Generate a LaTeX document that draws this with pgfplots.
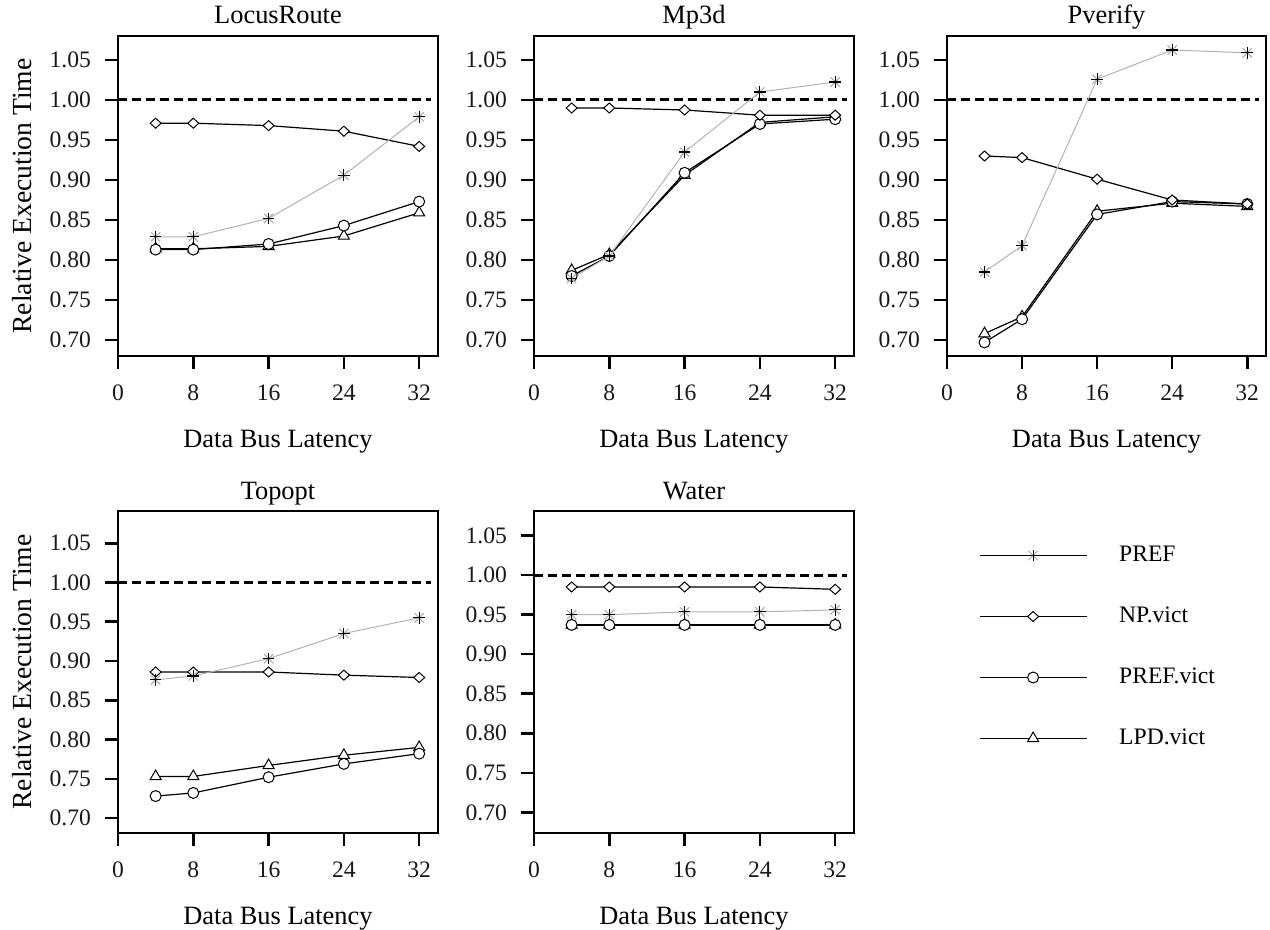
\documentclass[border=0pt]{standalone}
\usepackage{pgfplots}
\pgfplotsset{compat=1.18}
\usepackage{fontspec}
\setmainfont{Liberation Serif}

% PREF marker: light grey cross under a black plus
\pgfdeclareplotmark{plusx}{%
  \pgfsetstrokecolor{black!30}%
  \pgfpathmoveto{\pgfqpoint{-.8\pgfplotmarksize}{-.8\pgfplotmarksize}}%
  \pgfpathlineto{\pgfqpoint{.8\pgfplotmarksize}{.8\pgfplotmarksize}}%
  \pgfpathmoveto{\pgfqpoint{-.8\pgfplotmarksize}{.8\pgfplotmarksize}}%
  \pgfpathlineto{\pgfqpoint{.8\pgfplotmarksize}{-.8\pgfplotmarksize}}%
  \pgfusepathqstroke
  \pgfsetstrokecolor{black}%
  \pgfpathmoveto{\pgfqpoint{-\pgfplotmarksize}{0pt}}%
  \pgfpathlineto{\pgfqpoint{\pgfplotmarksize}{0pt}}%
  \pgfpathmoveto{\pgfqpoint{0pt}{-\pgfplotmarksize}}%
  \pgfpathlineto{\pgfqpoint{0pt}{\pgfplotmarksize}}%
  \pgfusepathqstroke
}
% open diamond, slightly wider than tall
\pgfdeclareplotmark{dia}{%
  \pgfpathmoveto{\pgfqpoint{1.1\pgfplotmarksize}{0pt}}%
  \pgfpathlineto{\pgfqpoint{0pt}{\pgfplotmarksize}}%
  \pgfpathlineto{\pgfqpoint{-1.1\pgfplotmarksize}{0pt}}%
  \pgfpathlineto{\pgfqpoint{0pt}{-\pgfplotmarksize}}%
  \pgfpathclose
  \pgfusepathqfillstroke
}

\pgfplotsset{
  panel/.style={
    scale only axis, width=160pt, height=160pt, anchor=north west,
    xmin=0, xmax=34, ymin=0.68, ymax=1.08,
    xtick={0,8,16,24,32},
    ytick={0.7,0.75,0.8,0.85,0.9,0.95,1,1.05},
    tick align=outside, xtick pos=left, ytick pos=left,
    major tick length=6.5pt,
    major tick style={black, line width=1.3pt},
    axis line style={black, line width=1.3pt},
    /pgf/number format/assume math mode=true,
    yticklabel style={/pgf/number format/.cd, fixed, fixed zerofill, precision=2, /tikz/.cd, xshift=-3.5pt},
    xticklabel style={yshift=-4.5pt},
    tick label style={font=\fontsize{11.8}{13}\selectfont, text=black!90},
    label style={font=\fontsize{13.2}{15}\selectfont},
    xlabel={Data Bus Latency},
    xlabel style={at={(axis description cs:0.5,0)}, anchor=center, yshift=-43pt},
    title style={font=\fontsize{13.2}{15}\selectfont, at={(axis description cs:0.5,1)}, anchor=base},
  },
  leftpanel/.style={
    ylabel={Relative Execution Time},
    ylabel style={at={(axis description cs:0,0.5)}, anchor=center, yshift=48pt,
      font=\fontsize{13.8}{15}\selectfont},
  },
  pref/.style={black!30, line width=0.5pt, mark=plusx, mark size=2.9pt, mark options={line width=0.6pt}},
  npv/.style={black, line width=0.6pt, mark=dia, mark size=2.5pt, mark options={fill=white, line width=0.5pt}},
  pv/.style={black, line width=0.6pt, mark=*, mark size=2.75pt, mark options={fill=white, line width=0.5pt}},
  lpd/.style={black, line width=0.6pt, mark=triangle*, mark size=3.2pt, mark options={fill=white, line width=0.5pt}},
  unity/.style={black, line width=1.5pt, dash pattern=on 4.5pt off 2.5pt},
}

\begin{document}
\begin{tikzpicture}
\path[use as bounding box] (0,0) rectangle (635pt,-465pt);

% LocusRoute
\begin{axis}[panel, leftpanel, at={(59pt,-18pt)}, title={LocusRoute}]
\addplot[unity] coordinates {(0,1) (33.3,1)};
\addplot[lpd] coordinates {(4,0.814) (8,0.814) (16,0.817) (24,0.830) (32,0.859)};
\addplot[pv] coordinates {(4,0.813) (8,0.813) (16,0.820) (24,0.843) (32,0.873)};
\addplot[npv] coordinates {(4,0.971) (8,0.971) (16,0.968) (24,0.961) (32,0.942)};
\addplot[pref] coordinates {(4,0.829) (8,0.829) (16,0.852) (24,0.906) (32,0.979)};
\end{axis}

% Mp3d
\begin{axis}[panel, at={(267pt,-18pt)}, title={Mp3d}]
\addplot[unity] coordinates {(0,1) (33.3,1)};
\addplot[lpd] coordinates {(4,0.787) (8,0.807) (16,0.906) (24,0.972) (32,0.979)};
\addplot[pv] coordinates {(4,0.780) (8,0.805) (16,0.909) (24,0.970) (32,0.976)};
\addplot[npv] coordinates {(4,0.990) (8,0.990) (16,0.9875) (24,0.981) (32,0.981)};
\addplot[pref] coordinates {(4,0.777) (8,0.805) (16,0.935) (24,1.010) (32,1.0225)};
\end{axis}

% Pverify
\begin{axis}[panel, at={(473.5pt,-18pt)}, width=159.5pt, title={Pverify}]
\addplot[unity] coordinates {(0,1) (33.3,1)};
\addplot[lpd] coordinates {(4,0.708) (8,0.729) (16,0.861) (24,0.871) (32,0.867)};
\addplot[pv] coordinates {(4,0.697) (8,0.726) (16,0.857) (24,0.873) (32,0.870)};
\addplot[npv] coordinates {(4,0.930) (8,0.928) (16,0.901) (24,0.875) (32,0.870)};
\addplot[pref] coordinates {(4,0.785) (8,0.818) (16,1.026) (24,1.0625) (32,1.059)};
\end{axis}

% Topopt
\begin{axis}[panel, leftpanel, at={(59pt,-255.5pt)}, height=161pt, ymin=0.681, ymax=1.091,
  title={Topopt}]
\addplot[unity] coordinates {(0,1) (33.3,1)};
\addplot[lpd] coordinates {(4,0.753) (8,0.753) (16,0.767) (24,0.780) (32,0.790)};
\addplot[pv] coordinates {(4,0.728) (8,0.732) (16,0.752) (24,0.769) (32,0.782)};
\addplot[npv] coordinates {(4,0.886) (8,0.886) (16,0.886) (24,0.882) (32,0.879)};
\addplot[pref] coordinates {(4,0.876) (8,0.881) (16,0.903) (24,0.935) (32,0.955)};
\end{axis}

% Water
\begin{axis}[panel, at={(267pt,-255.5pt)}, height=161pt, ymin=0.674, ymax=1.081,
  title={Water}]
\addplot[unity] coordinates {(0,1) (33.3,1)};
\addplot[lpd] coordinates {(4,0.937) (8,0.937) (16,0.937) (24,0.937) (32,0.937)};
\addplot[pv] coordinates {(4,0.937) (8,0.937) (16,0.937) (24,0.937) (32,0.937)};
\addplot[npv] coordinates {(4,0.985) (8,0.985) (16,0.985) (24,0.985) (32,0.982)};
\addplot[pref] coordinates {(4,0.950) (8,0.950) (16,0.9535) (24,0.9535) (32,0.956)};
\end{axis}

% Shared legend
\begin{axis}[hide axis, scale only axis, width=20pt, height=20pt,
  xmin=0, xmax=1, ymin=0, ymax=1,
  at={(489.5pt,-323.5pt)}, anchor=origin,
  legend cell align=left,
  legend image code/.code={%
    \draw[#1, mark repeat=2, mark phase=2] plot coordinates {(0pt,0pt) (26.75pt,0pt) (53.5pt,0pt)};},
  legend style={draw=none, fill=none, inner sep=0pt, outer sep=0pt,
    at={(axis cs:0,0)}, anchor=west, row sep=19.5pt,
    nodes={inner sep=0pt, text height=8.5pt, text depth=2.5pt, font=\fontsize{11.8}{14}\selectfont},
    /tikz/every odd column/.append style={column sep=16pt}}]
\addlegendimage{black, line width=0.6pt, mark=plusx, mark size=2.9pt, mark options={line width=0.6pt}}
\addlegendentry{PREF}
\addlegendimage{black, line width=0.6pt, mark=dia, mark size=2.5pt, mark options={fill=white, line width=0.5pt}}
\addlegendentry{NP.vict}
\addlegendimage{black, line width=0.6pt, mark=*, mark size=2.75pt, mark options={fill=white, line width=0.5pt}}
\addlegendentry{PREF.vict}
\addlegendimage{black, line width=0.6pt, mark=triangle*, mark size=3.2pt, mark options={fill=white, line width=0.5pt}}
\addlegendentry{LPD.vict}
\end{axis}
\end{tikzpicture}
\end{document}
